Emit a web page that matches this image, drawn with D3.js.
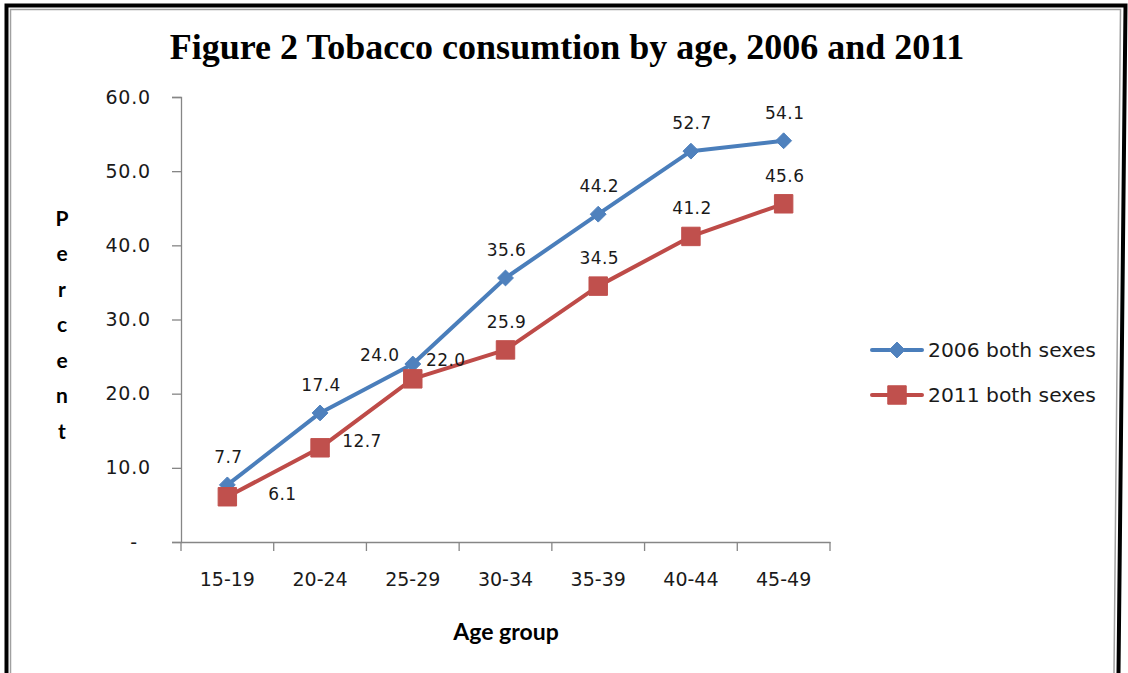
<!DOCTYPE html>
<html>
<head>
<meta charset="utf-8">
<script src="https://cdn.jsdelivr.net/npm/d3@7"></script>
<style>
  html, body { margin: 0; padding: 0; background: #fff; }
  svg { display: block; }
</style>
</head>
<body>
<svg id="chart" width="1128" height="673"></svg>
<script>
const categories = ["15-19", "20-24", "25-29", "30-34", "35-39", "40-44", "45-49"];
const values2006 = [7.7, 17.4, 24.0, 35.6, 44.2, 52.7, 54.1];
const values2011 = [6.1, 12.7, 22.0, 25.9, 34.5, 41.2, 45.6];
const seriesNames = ["2006 both sexes", "2011 both sexes"];
const yTicks = [0, 10, 20, 30, 40, 50, 60];
const titleText = "Figure 2 Tobacco consumtion by age, 2006 and 2011";
const xTitle = "Age group";
const yTitle = "Percent";

// label placement (manual placement as in the source chart)
const labelPos2006 = ["above", "above", "left", "above", "above", "above", "above"];
const labelPos2011 = ["right-far", "right", "right-up", "above", "above", "above", "above"];

const svg = d3.select("#chart");
const W = 1128, H = 673;
svg.append("rect").attr("width", W).attr("height", H).attr("fill", "#fff");

const x = d3.scaleBand().domain(categories).range([181, 830]).paddingInner(0).paddingOuter(0);
const y = d3.scaleLinear().domain([0, 60]).range([542, 97]);
const cx = d => x(d) + x.bandwidth() / 2;

const axisColor = "#868686";
const textColor = "#1a1a1a";
const blue = "#4A7EBB", blueM = "#4F81BD";
const red = "#BE4B48", redM = "#C0504D";

// Title
svg.append("text")
  .attr("x", 567).attr("y", 59)
  .attr("text-anchor", "middle")
  .attr("font-family", "'Liberation Serif', 'Times New Roman', serif")
  .attr("font-weight", "bold")
  .attr("font-size", 36)
  .attr("fill", "#000")
  .text(titleText);

// Y axis
const yAxis = d3.axisLeft(y)
  .tickValues(yTicks)
  .tickSize(9)
  .tickPadding(21)
  .tickFormat(d => d === 0 ? "-" : d3.format(".1f")(d));
const gy = svg.append("g").attr("transform", "translate(181,0)").call(yAxis);
gy.select(".domain").attr("stroke", axisColor).attr("stroke-width", 1.3);
gy.selectAll(".tick line").attr("stroke", axisColor).attr("stroke-width", 1.3);
gy.selectAll(".tick text")
  .attr("font-family", "'DejaVu Sans', Verdana, sans-serif")
  .attr("font-size", 19)
  .attr("letter-spacing", 0.8)
  .attr("fill", textColor)
  .attr("dx", d => d === 0 ? -13 : 0);

// X axis
const xAxis = d3.axisBottom(x).tickSize(0).tickPadding(31);
const gx = svg.append("g").attr("transform", "translate(0,542)").call(xAxis);
gx.select(".domain").attr("stroke", axisColor).attr("stroke-width", 1.3);
gx.selectAll(".tick text")
  .attr("font-family", "'DejaVu Sans', Verdana, sans-serif")
  .attr("font-size", 19)
  .attr("fill", textColor);
// boundary tick marks (between categories)
const bounds = categories.map(c => x(c)).concat([x(categories[categories.length - 1]) + x.bandwidth()]);
gx.selectAll(".btick").data(bounds).enter().append("line")
  .attr("x1", d => d).attr("x2", d => d)
  .attr("y1", 0).attr("y2", 9)
  .attr("stroke", axisColor).attr("stroke-width", 1.3);

// Axis titles
svg.append("text")
  .attr("x", 506).attr("y", 631)
  .attr("text-anchor", "middle")
  .attr("dominant-baseline", "central")
  .attr("font-family", "Lato, 'Open Sans', sans-serif")
  .attr("font-weight", "bold")
  .attr("font-size", 23)
  .attr("fill", "#000")
  .text(xTitle);

const yLetters = yTitle.split("");
svg.append("g").selectAll("text").data(yLetters).enter().append("text")
  .attr("x", 62)
  .attr("y", (d, i) => 217 + i * 35.5)
  .attr("text-anchor", "middle")
  .attr("dominant-baseline", "central")
  .attr("font-family", "Lato, 'Open Sans', sans-serif")
  .attr("font-weight", "bold")
  .attr("font-size", 21)
  .attr("fill", "#000")
  .text(d => d);

// Lines
const line = d3.line().x(d => cx(d.c)).y(d => y(d.v));
const data2006 = categories.map((c, i) => ({ c, v: values2006[i], p: labelPos2006[i] }));
const data2011 = categories.map((c, i) => ({ c, v: values2011[i], p: labelPos2011[i] }));

svg.append("path").datum(data2006).attr("d", line)
  .attr("fill", "none").attr("stroke", blue).attr("stroke-width", 4)
  .attr("stroke-linejoin", "round").attr("stroke-linecap", "round");
svg.append("path").datum(data2011).attr("d", line)
  .attr("fill", "none").attr("stroke", red).attr("stroke-width", 4)
  .attr("stroke-linejoin", "round").attr("stroke-linecap", "round");

const diamond = d3.symbol().type(d3.symbolDiamond2).size(160);
const square = d3.symbol().type(d3.symbolSquare).size(340);

svg.append("g").selectAll("path").data(data2006).enter().append("path")
  .attr("d", diamond)
  .attr("transform", d => `translate(${cx(d.c)},${y(d.v)})`)
  .attr("fill", blueM).attr("stroke", blueM).attr("stroke-width", 1);
svg.append("g").selectAll("path").data(data2011).enter().append("path")
  .attr("d", square)
  .attr("transform", d => `translate(${cx(d.c)},${y(d.v)})`)
  .attr("fill", redM).attr("stroke", redM).attr("stroke-width", 1);

// Data labels
const offsets = {
  "above": [1, -28],
  "left": [-33, -9],
  "right": [42, -7],
  "right-far": [55, -3],
  "right-up": [33, -19]
};
function addLabels(data) {
  svg.append("g").selectAll("text").data(data).enter().append("text")
    .attr("x", d => cx(d.c) + offsets[d.p][0])
    .attr("y", d => y(d.v) + offsets[d.p][1])
    .attr("text-anchor", "middle")
    .attr("dominant-baseline", "central")
    .attr("font-family", "'DejaVu Sans', Verdana, sans-serif")
    .attr("font-size", 17)
    .attr("letter-spacing", 0.4)
    .attr("fill", textColor)
    .text(d => d3.format(".1f")(d.v));
}
addLabels(data2006);
addLabels(data2011);

// Legend
const legend = svg.append("g");
const legendItems = [
  { name: seriesNames[0], color: blue, mcolor: blueM, sym: diamond },
  { name: seriesNames[1], color: red, mcolor: redM, sym: square }
];
legendItems.forEach((it, i) => {
  const ly = 350 + i * 45;
  legend.append("line").attr("x1", 872).attr("x2", 922).attr("y1", ly).attr("y2", ly)
    .attr("stroke", it.color).attr("stroke-width", 4).attr("stroke-linecap", "round");
  legend.append("path").attr("d", it.sym).attr("transform", `translate(897,${ly})`)
    .attr("fill", it.mcolor).attr("stroke", it.mcolor);
  legend.append("text").attr("x", 928).attr("y", ly)
    .attr("dominant-baseline", "central")
    .attr("font-family", "'DejaVu Sans', Verdana, sans-serif")
    .attr("font-size", 20.3)
    .attr("fill", textColor)
    .text(it.name);
});

// Frame (outer black, inner gray)
svg.append("path").attr("d", "M6.5,673 L6.5,5.5 L1125.5,5.5 L1118.5,673")
  .attr("fill", "none").attr("stroke", "#000").attr("stroke-width", 4);
svg.append("path").attr("d", "M10.5,673 L10.5,9.5 L1120.5,9.5 L1114,673")
  .attr("fill", "none").attr("stroke", "#a0a0a0").attr("stroke-width", 1.5);
</script>
</body>
</html>
